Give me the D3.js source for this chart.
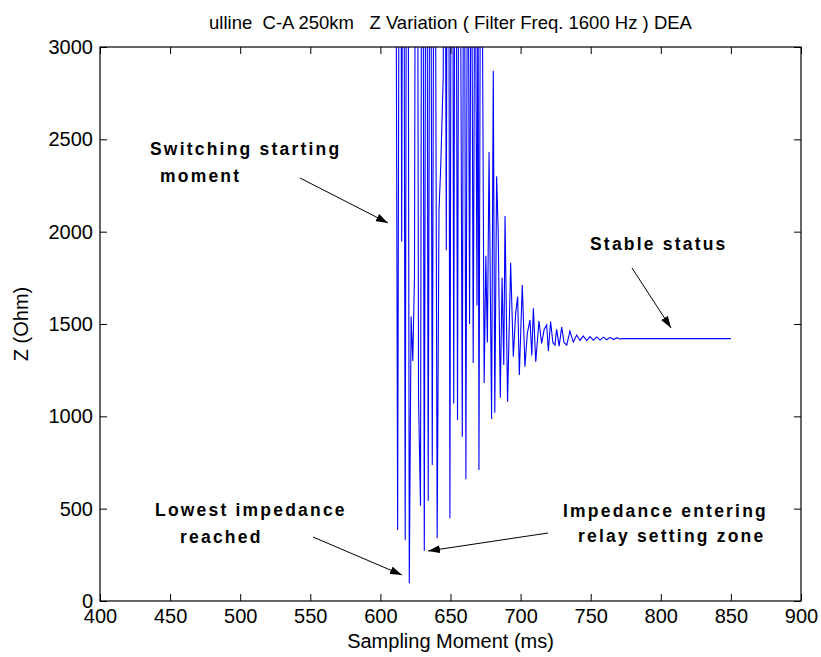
<!DOCTYPE html>
<html>
<head>
<meta charset="utf-8">
<script src="https://cdn.jsdelivr.net/npm/d3@7"></script>
<style>
body { margin: 0; background: #fff; }
.lbl { font-family: "Liberation Sans", Arial, sans-serif; fill: #000; }
.note { font-family: "Liberation Sans", Arial, sans-serif; font-weight: bold; font-size: 17.5px; letter-spacing: 2.2px; fill: #000; }
</style>
</head>
<body>
<div id="chart"></div>
<script>
var sampleT = [610.5, 612.3, 614.0, 615.2, 616.3, 617.7, 619.2, 620.6, 621.9, 623.1, 624.3, 625.8, 627.2, 628.6, 629.9, 631.3,
    632.8, 634.1, 635.6, 637.0, 638.6, 640.5, 641.8, 643.0, 644.8, 645.8, 647.0, 648.2, 649.6, 651.0, 652.3, 653.5,
    655.0, 656.3, 658.4, 659.6, 661.0, 662.3, 663.6, 664.9, 666.2, 667.5, 668.9, 669.6, 670.3, 671.4, 672.7, 674.0,
    675.2, 676.3, 677.5, 679.3, 680.5, 681.6, 682.9, 684.0, 685.5, 686.8, 688.0, 688.9, 690.7, 692.9, 694.8, 696.5,
    697.9, 699.1, 701.2, 703.1, 704.8, 706.7, 708.0, 709.1, 710.8, 713.1, 715.0, 716.8, 718.6, 719.8, 721.4, 723.0,
    724.5, 725.7, 727.5, 729.3, 731.0, 732.9, 735.2, 737.6, 740.0, 742.4, 744.7, 747.1, 749.5, 751.9, 754.3, 756.7,
    759.1, 761.5, 763.9, 766.3, 768.7, 771.0, 772.0, 850.0];
var sampleZ = [5500, 384, 6000, 1946, 5800, 330, 6500, 96, 1540, 1300, 1750, 7000, 1100, 516, 6000, 272,
    5500, 543, 5000, 736, 5200, 340, 2117, 2345, 2834, 5000, 1900, 6000, 448, 6200, 1070, 5500,
    980, 5200, 890, 4800, 659, 4500, 1500, 4200, 1289, 4000, 1600, 3600, 709, 3800, 3300, 1180,
    1870, 1400, 2431, 985, 2872, 1020, 2300, 2009, 1100, 1750, 1278, 2085, 1079, 1832, 1323, 1560,
    1648, 1224, 1711, 1269, 1450, 1522, 1330, 1585, 1296, 1516, 1395, 1470, 1495, 1354, 1513, 1400,
    1386, 1471, 1380, 1484, 1400, 1386, 1462, 1402, 1440, 1411, 1435, 1410, 1432, 1412, 1430, 1413,
    1429, 1415, 1428, 1416, 1426, 1418, 1421, 1421];

var xTicks = [400, 450, 500, 550, 600, 650, 700, 750, 800, 850, 900];
var yTicks = [0, 500, 1000, 1500, 2000, 2500, 3000];

var notes = [
    { lines: ["Switching starting", "moment"], x: [150, 160], y: [155, 182], from: [300, 178], to: [388, 223] },
    { lines: ["Lowest impedance", "reached"], x: [155, 180], y: [516, 543], from: [313, 537], to: [402, 575] },
    { lines: ["Impedance entering", "relay setting zone"], x: [563, 578], y: [517, 542], from: [548, 533], to: [428, 551] },
    { lines: ["Stable status"], x: [590], y: [250], from: [632, 268], to: [671, 328] }
];

var width = 821, height = 657;
var plotLeft = 100, plotRight = 801, plotTop = 47, plotBottom = 601;

var svg = d3.select("#chart")
    .append("svg")
    .attr("width", width)
    .attr("height", height);

var x = d3.scaleLinear().domain([400, 900]).range([plotLeft, plotRight]);
var y = d3.scaleLinear().domain([0, 3000]).range([plotBottom, plotTop]);

var defs = svg.append("defs");
defs.append("clipPath").attr("id", "plot")
    .append("rect")
    .attr("x", plotLeft).attr("y", plotTop)
    .attr("width", plotRight - plotLeft).attr("height", plotBottom - plotTop);

defs.append("marker")
    .attr("id", "head")
    .attr("viewBox", "0 0 12 8")
    .attr("refX", 12).attr("refY", 4)
    .attr("markerWidth", 12).attr("markerHeight", 8)
    .attr("markerUnits", "userSpaceOnUse")
    .attr("orient", "auto")
    .append("path")
    .attr("d", "M0,0 L12,4 L0,8 Z")
    .attr("fill", "#000");

// signal
var line = d3.line()
    .x(function(d, i) { return x(sampleT[i]); })
    .y(function(d) { return y(d); });

svg.append("path")
    .datum(sampleZ)
    .attr("clip-path", "url(#plot)")
    .attr("d", line)
    .attr("fill", "none")
    .attr("stroke", "#0000ff")
    .attr("stroke-width", 1.1);

//坐标轴
svg.append("g")
    .attr("transform", "translate(0," + plotBottom + ")")
    .call(d3.axisBottom(x).tickValues(xTicks).tickFormat(d3.format("d"))
        .tickSizeInner(-7).tickSizeOuter(0).tickPadding(8));
svg.append("g")
    .attr("transform", "translate(" + plotLeft + ",0)")
    .call(d3.axisLeft(y).tickValues(yTicks).tickFormat(d3.format("d"))
        .tickSizeInner(-7).tickSizeOuter(0).tickPadding(7));
svg.append("g")
    .attr("transform", "translate(0," + plotTop + ")")
    .call(d3.axisTop(x).tickValues(xTicks).tickSizeInner(-7).tickSizeOuter(0).tickFormat(""));
svg.append("g")
    .attr("transform", "translate(" + plotRight + ",0)")
    .call(d3.axisRight(y).tickValues(yTicks).tickSizeInner(-7).tickSizeOuter(0).tickFormat(""));

svg.selectAll(".domain").remove();
svg.selectAll(".tick line").attr("stroke", "#000");
svg.selectAll(".tick text")
    .attr("class", "lbl")
    .attr("font-size", 20);

svg.append("rect")
    .attr("x", plotLeft).attr("y", plotTop)
    .attr("width", plotRight - plotLeft).attr("height", plotBottom - plotTop)
    .attr("fill", "none")
    .attr("stroke", "#000")
    .attr("stroke-width", 1.2);

// titles
svg.append("text")
    .attr("class", "lbl")
    .attr("x", (plotLeft + plotRight) / 2).attr("y", 29)
    .attr("text-anchor", "middle")
    .attr("font-size", 18.5)
    .attr("xml:space", "preserve")
    .text("ulline  C-A 250km   Z Variation ( Filter Freq. 1600 Hz ) DEA");

svg.append("text")
    .attr("class", "lbl")
    .attr("x", (plotLeft + plotRight) / 2).attr("y", 648)
    .attr("text-anchor", "middle")
    .attr("font-size", 20)
    .text("Sampling Moment (ms)");

svg.append("text")
    .attr("class", "lbl")
    .attr("transform", "translate(28," + (plotTop + plotBottom) / 2 + ") rotate(-90)")
    .attr("text-anchor", "middle")
    .attr("font-size", 20)
    .text("Z (Ohm)");

// annotations
notes.forEach(function(n) {
    n.lines.forEach(function(s, i) {
        svg.append("text")
            .attr("class", "note")
            .attr("x", n.x[i]).attr("y", n.y[i])
            .text(s);
    });
    svg.append("line")
        .attr("x1", n.from[0]).attr("y1", n.from[1])
        .attr("x2", n.to[0]).attr("y2", n.to[1])
        .attr("stroke", "#000")
        .attr("stroke-width", 1)
        .attr("marker-end", "url(#head)");
});
</script>
</body>
</html>
